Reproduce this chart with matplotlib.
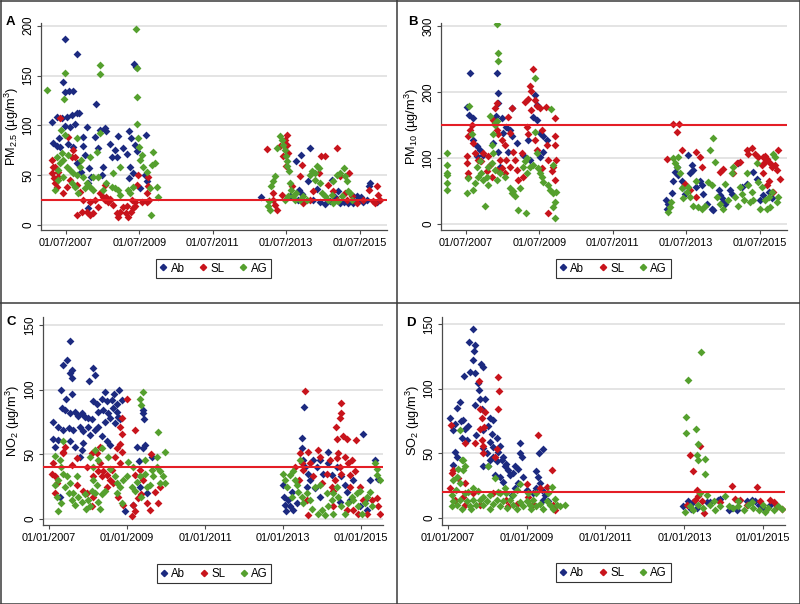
import matplotlib
matplotlib.use("Agg")
import matplotlib.pyplot as plt
from matplotlib.lines import Line2D

plt.rcParams['font.family'] = ['Liberation Sans', 'DejaVu Sans']
plt.rcParams['mathtext.default'] = 'regular'

# ---------------- data (decimal year, value) ----------------
series_names = ['Ab', 'SL', 'AG']

pm25_ab = [(2007.48,187),(2007.82,172),(2007.43,144),(2007.48,133),(2007.60,134),(2007.71,134),(2008.32,121),(2009.37,162),(2009.41,159),
(2007.12,103),(2007.25,108),(2007.39,107),(2007.53,108),(2007.66,110),(2007.80,112),(2007.87,112),(2007.48,99),(2007.63,98),(2007.75,101),
(2008.07,98),(2008.43,95),(2008.57,97),(2008.61,94),(2007.16,82),(2007.25,79),(2007.34,78),(2007.57,81),(2007.71,78),(2007.98,79),(2008.02,70),
(2008.30,88),(2008.39,77),(2008.70,81),(2008.93,89),(2008.84,75),(2008.89,68),(2008.75,68),(2009.16,71),(2009.05,77),(2009.23,94),(2009.29,87),
(2009.38,80),(2009.45,74),(2009.68,90),(2009.25,58),(2009.32,52),(2009.23,47),(2009.66,50),(2009.72,44),(2008.14,57),(2008.18,48),(2008.12,42),
(2008.52,58),(2008.48,50),(2007.82,62),(2007.91,53),(2008.12,17),(2009.52,37),(2007.33,87),(2007.98,88),
(2012.82,28),(2013.60,29),(2013.77,64),(2013.90,70),(2014.15,77),(2013.86,35),(2013.92,31),(2013.83,25),(2014.10,44),(2014.33,36),(2014.24,25),
(2014.42,23),(2014.56,21),(2014.69,24),(2014.83,28),(2014.92,34),(2014.74,45),(2014.97,22),(2015.06,23),(2015.19,22),(2015.33,22),(2015.31,29),
(2015.42,29),(2015.46,24),(2015.53,28),(2015.60,23),(2015.69,25),(2015.74,39),(2015.78,42),(2015.96,23)]

pm25_sl = [(2007.12,65),(2007.16,58),(2007.14,52),(2007.18,47),(2007.21,42),(2007.25,38),(2007.30,53),(2007.34,107),(2007.57,88),(2007.66,68),
(2007.71,75),(2007.75,68),(2007.43,32),(2007.53,38),(2007.62,45),(2007.80,40),(2007.89,33),(2007.98,25),(2008.07,13),(2008.16,10),(2008.25,12),
(2008.39,18),(2008.43,32),(2008.52,28),(2008.57,25),(2008.61,28),(2008.66,23),(2008.70,25),(2008.80,20),(2008.89,12),(2008.93,8),(2008.98,13),
(2009.07,18),(2009.14,12),(2009.20,8),(2009.27,13),(2009.34,17),(2009.38,23),(2009.43,40),(2009.48,50),(2009.75,48),(2009.70,32),(2009.77,25),
(2009.57,23),(2008.57,40),(2008.16,23),(2007.94,13),(2007.80,10),(2008.30,25),(2008.71,26),(2009.16,19),(2009.39,19),(2009.30,25),(2009.70,23),
(2009.75,39),(2007.20,58),(2007.28,48),
(2012.99,76),(2013.15,25),(2013.20,20),(2013.24,15),(2013.13,32),(2013.38,30),(2013.40,69),(2013.33,79),(2013.47,85),(2013.53,90),(2013.51,80),
(2013.56,72),(2013.50,59),(2013.65,39),(2013.92,60),(2013.88,49),(2013.95,22),(2014.15,25),(2014.38,52),(2014.44,69),(2014.56,69),(2014.65,40),
(2014.78,34),(2014.89,77),(2014.96,49),(2014.87,25),(2015.10,32),(2015.22,52),(2015.28,29),(2015.42,22),(2015.60,25),(2015.74,35),(2015.87,24),
(2015.96,39),(2016.01,30),(2016.05,25),(2015.92,22),(2014.24,34),(2015.15,25)]

pm25_ag = [(2007.00,135),(2007.48,153),(2007.45,126),(2008.43,161),(2008.43,152),(2009.40,197),(2009.45,158),(2009.43,128),(2009.43,101),
(2009.48,87),(2007.36,95),(2007.48,90),(2007.80,87),(2008.43,92),(2008.16,68),(2008.34,73),(2007.25,68),(2007.34,62),(2007.43,65),(2007.53,58),
(2007.62,55),(2007.71,52),(2007.80,50),(2007.89,58),(2007.93,65),(2007.98,48),(2008.07,42),(2008.16,38),(2008.25,35),(2007.21,35),(2007.30,45),
(2007.43,48),(2007.66,42),(2007.75,38),(2007.84,32),(2008.02,37),(2008.75,38),(2008.84,37),(2008.93,35),(2008.98,30),(2008.80,52),(2008.98,58),
(2009.20,35),(2009.25,32),(2009.50,78),(2009.57,70),(2009.52,65),(2009.61,58),(2009.70,53),(2009.79,37),(2009.88,73),(2009.93,62),(2009.84,60),
(2009.99,38),(2010.02,28),(2009.82,10),(2008.25,48),(2008.39,48),(2008.61,42),(2008.52,35),(2009.34,38),(2007.40,72),(2007.55,70),(2007.28,55),
(2013.01,19),(2013.06,15),(2013.04,24),(2013.10,39),(2013.15,44),(2013.20,49),(2013.24,77),(2013.33,89),(2013.38,85),(2013.42,80),(2013.47,75),
(2013.50,69),(2013.51,64),(2013.53,59),(2013.59,54),(2013.60,42),(2013.62,35),(2013.69,29),(2013.74,25),(2013.78,32),(2013.88,25),(2013.97,29),
(2014.06,25),(2014.15,50),(2014.20,54),(2014.28,52),(2014.33,59),(2014.38,57),(2014.28,45),(2014.42,42),(2014.47,32),(2014.56,29),(2014.65,25),
(2014.74,30),(2014.78,44),(2014.87,50),(2014.96,52),(2015.06,57),(2015.10,49),(2015.15,44),(2015.19,34),(2015.24,32),(2015.01,29),(2014.92,24),
(2015.28,25),(2014.78,22),(2013.47,25),(2013.56,29)]

pm10_ab = [(2007.62,229),(2008.34,230),(2008.39,199),(2007.54,178),(2007.60,166),(2007.71,161),(2008.39,184),(2008.32,164),(2008.48,161),
(2008.61,148),(2008.70,143),(2008.75,133),(2008.52,138),(2008.89,123),(2007.71,128),(2007.80,118),(2007.89,113),(2007.80,103),(2007.98,105),
(2008.25,123),(2008.39,110),(2008.43,87),(2008.66,110),(2009.34,163),(2009.43,181),(2009.45,158),(2009.52,138),(2009.61,133),(2009.52,102),
(2009.61,110),(2009.20,128),(2009.07,105),(2009.25,97),(2008.77,176),(2009.39,196),(2009.70,127),
(2012.95,36),(2012.97,23),(2013.01,31),(2013.11,47),(2013.15,66),(2013.20,79),(2013.24,87),(2013.29,74),(2013.38,66),(2013.42,56),(2013.47,46),
(2013.56,105),(2013.60,77),(2013.65,89),(2013.69,82),(2013.78,56),(2013.88,66),(2013.92,59),(2013.97,46),(2014.19,23),(2014.24,22),(2014.06,31),
(2014.38,51),(2014.42,44),(2014.47,39),(2014.51,34),(2014.56,31),(2014.69,51),(2014.74,46),(2014.92,92),(2015.01,56),(2015.15,61),(2015.33,79),
(2015.42,69),(2015.51,36),(2015.60,44),(2015.74,49),(2015.83,39)]

pm10_sl = [(2009.32,236),(2009.25,209),(2009.29,202),(2009.20,190),(2009.38,188),(2009.43,179),(2009.29,173),(2009.11,186),(2009.68,178),
(2009.93,161),(2009.52,176),(2008.75,176),(2008.34,183),(2008.30,176),(2007.62,143),(2007.66,151),(2007.57,133),(2007.53,103),(2007.53,92),
(2007.57,77),(2007.57,72),(2007.71,123),(2007.84,97),(2007.98,108),(2008.12,103),(2008.16,90),(2008.25,158),(2008.34,143),(2008.39,136),
(2008.48,128),(2008.57,120),(2008.66,163),(2008.70,138),(2008.61,97),(2008.43,97),(2008.48,85),(2008.34,82),(2008.57,77),(2008.70,87),
(2008.80,110),(2008.84,97),(2008.89,82),(2008.93,67),(2009.02,108),(2009.07,72),(2009.16,148),(2009.20,136),(2009.38,128),(2009.43,113),
(2009.57,143),(2009.70,120),(2009.75,97),(2009.88,87),(2009.93,120),(2009.93,133),(2009.97,97),(2009.93,67),(2009.75,16),(2009.84,80),
(2009.57,85),(2008.21,72),(2008.07,80),(2007.93,95),(2007.75,108),
(2012.97,98),(2013.13,152),(2013.24,139),(2013.31,152),(2013.38,113),(2013.47,61),(2013.60,51),(2013.78,110),(2013.88,102),(2013.92,87),
(2013.78,41),(2014.42,79),(2014.51,84),(2014.78,77),(2014.87,92),(2014.96,94),(2015.15,112),(2015.19,107),(2015.28,115),(2015.37,107),
(2015.46,102),(2015.55,89),(2015.60,102),(2015.64,94),(2015.69,99),(2015.78,92),(2015.83,87),(2015.92,89),(2015.96,82),(2016.01,113),
(2016.04,69),(2015.60,77),(2015.69,59),(2015.74,66),(2015.64,104),(2015.87,49)]

pm10_ag = [(2007.00,108),(2007.00,90),(2007.00,77),(2007.00,74),(2007.00,62),(2007.00,51),(2008.36,303),(2008.39,259),(2008.39,247),
(2007.58,179),(2009.38,221),(2009.81,175),(2007.66,136),(2007.57,70),(2007.53,47),(2007.71,52),(2008.02,27),(2007.80,87),(2007.89,95),
(2007.93,77),(2007.98,67),(2008.07,72),(2008.12,59),(2008.21,120),(2008.25,136),(2008.30,153),(2008.16,164),(2008.25,108),(2008.21,92),
(2008.30,82),(2008.43,77),(2008.57,72),(2008.70,54),(2008.75,47),(2008.84,42),(2008.80,50),(2008.98,54),(2008.93,21),(2009.14,16),
(2009.07,87),(2009.11,95),(2009.18,100),(2009.16,77),(2009.25,87),(2009.34,90),(2009.38,140),(2009.43,108),(2009.48,85),(2009.52,77),
(2009.57,72),(2009.61,64),(2009.75,59),(2009.79,52),(2009.88,47),(2009.97,49),(2009.93,34),(2009.88,26),(2009.93,9),(2009.87,90),
(2007.84,72),(2007.75,62),(2008.34,67),(2008.12,87),(2008.30,150),(2008.36,156),
(2013.01,18),(2013.06,26),(2013.10,34),(2013.15,100),(2013.20,92),(2013.24,87),(2013.29,102),(2013.33,77),(2013.38,54),(2013.42,39),
(2013.51,49),(2013.56,56),(2013.60,41),(2013.69,28),(2013.78,66),(2013.83,26),(2013.92,23),(2014.01,28),(2014.10,64),(2014.15,112),
(2014.22,131),(2014.19,59),(2014.28,94),(2014.33,41),(2014.42,31),(2014.51,23),(2014.56,61),(2014.65,36),(2014.74,77),(2014.78,87),
(2014.83,41),(2014.92,28),(2014.96,56),(2015.01,46),(2015.06,36),(2015.15,77),(2015.19,59),(2015.24,34),(2015.33,36),(2015.42,92),
(2015.46,64),(2015.51,23),(2015.55,56),(2015.64,36),(2015.69,23),(2015.78,26),(2015.83,49),(2015.87,107),(2015.92,102),(2016.01,41),
(2015.96,34),(2015.74,41),(2015.28,49)]

no2_ab = [(2007.54,138),(2007.35,119),(2007.47,123),(2007.58,115),(2007.54,113),(2007.58,109),(2008.14,117),(2008.18,111),(2008.03,107),
(2007.30,100),(2007.58,97),(2007.44,93),(2008.44,98),(2008.80,100),(2008.67,97),(2008.35,93),(2008.22,89),(2008.14,91),(2008.48,91),
(2008.61,92),(2008.74,89),(2008.86,92),(2007.33,86),(2007.41,84),(2007.54,82),(2007.67,83),(2007.75,80),(2007.84,82),(2007.92,79),
(2008.01,78),(2008.09,77),(2008.26,83),(2008.39,84),(2008.52,82),(2008.63,86),(2008.74,83),(2008.78,79),(2008.82,77),(2007.11,75),
(2007.24,71),(2007.37,69),(2007.50,70),(2007.62,69),(2007.79,71),(2007.88,68),(2008.01,71),(2008.05,65),(2008.18,69),(2008.26,71),
(2008.44,75),(2008.56,78),(2008.69,74),(2007.11,62),(2007.24,61),(2007.54,60),(2007.88,59),(2008.35,64),(2007.15,56),(2007.67,56),
(2007.84,53),(2008.48,60),(2008.56,57),(2009.25,56),(2009.46,57),(2009.42,55),(2007.79,48),(2009.63,48),(2008.95,6),(2007.28,17),
(2009.16,11),(2009.33,25),(2009.50,20),(2009.42,82),(2009.40,84),(2009.44,77),(2009.30,45),
(2013.01,26),(2013.03,17),(2013.05,11),(2013.08,6),(2013.14,15),(2013.18,10),(2013.26,7),(2013.35,12),(2013.22,21),(2013.48,63),
(2013.54,87),(2013.48,55),(2013.52,46),(2013.56,40),(2013.65,35),(2013.69,30),(2013.61,25),(2013.78,46),(2013.86,40),(2013.82,24),
(2013.95,46),(2014.03,35),(2014.16,52),(2014.16,43),(2014.25,34),(2014.38,40),(2014.50,33),(2014.59,26),(2014.63,21),(2014.72,15),
(2014.80,30),(2014.97,10),(2015.04,66),(2015.10,15),(2015.15,7),(2015.23,30),(2015.36,46),(2015.44,31),(2014.46,13),(2013.95,17)]

no2_sl = [(2008.99,93),(2008.86,78),(2008.82,71),(2008.86,66),(2008.82,58),(2008.86,52),(2009.20,69),(2007.11,43),(2007.07,35),(2007.15,33),
(2007.20,28),(2007.15,20),(2007.41,56),(2007.37,51),(2007.71,26),(2007.88,22),(2007.97,20),(2008.09,10),(2008.14,17),(2008.22,51),
(2008.31,43),(2008.26,37),(2008.39,37),(2008.35,33),(2008.48,34),(2008.56,30),(2008.61,38),(2008.65,28),(2008.48,25),(2008.69,48),
(2008.82,43),(2008.78,17),(2008.90,11),(2009.16,11),(2009.20,6),(2009.12,2),(2009.29,16),(2009.37,19),(2009.50,12),(2009.59,7),
(2009.72,21),(2009.80,12),(2007.71,47),(2007.97,40),(2009.20,34),(2009.33,38),(2009.42,30),(2008.14,33),(2008.74,55),(2008.31,56),
(2008.10,51),(2007.37,52),(2007.60,42),(2009.62,50),(2009.85,25),
(2013.56,99),(2013.44,51),(2013.48,43),(2013.52,38),(2013.65,52),(2013.69,43),(2013.78,33),(2013.61,15),(2013.65,3),(2013.91,53),
(2013.95,48),(2014.00,28),(2014.12,35),(2014.21,46),(2014.25,25),(2014.29,10),(2014.33,30),(2014.38,47),(2014.42,51),(2014.46,40),
(2014.50,35),(2014.36,71),(2014.38,62),(2014.46,78),(2014.50,82),(2014.50,90),(2014.53,64),(2014.63,62),(2014.59,48),(2014.67,43),
(2014.72,34),(2014.76,46),(2014.85,37),(2014.87,61),(2014.97,25),(2015.06,15),(2015.15,4),(2015.27,15),(2015.40,16),(2015.44,10),
(2015.49,4),(2014.93,4),(2014.80,7),(2014.63,7),(2014.29,22),(2014.72,25),(2013.40,30),(2013.30,40)]

no2_ag = [(2007.35,60),(2009.40,98),(2009.33,93),(2009.37,88),(2009.80,67),(2009.97,52),(2008.18,53),(2008.35,55),(2008.26,46),(2008.14,40),
(2008.05,48),(2007.15,49),(2007.28,46),(2007.32,40),(2007.37,35),(2007.24,30),(2007.15,26),(2007.20,17),(2007.24,6),(2007.41,25),
(2007.50,20),(2007.58,15),(2007.67,11),(2007.62,20),(2007.75,17),(2007.84,13),(2007.92,19),(2008.01,15),(2008.05,10),(2008.09,22),
(2008.18,20),(2008.26,13),(2008.35,19),(2008.44,22),(2008.14,30),(2008.22,26),(2007.45,33),(2007.54,28),(2007.71,33),(2008.69,33),
(2008.74,28),(2008.82,25),(2008.90,30),(2008.86,12),(2008.74,20),(2008.99,33),(2009.03,44),(2009.16,40),(2009.12,25),(2009.20,22),
(2009.25,29),(2009.33,33),(2009.46,35),(2009.50,25),(2009.37,17),(2009.63,38),(2009.67,33),(2009.76,40),(2009.85,37),(2009.93,33),
(2009.97,28),(2009.85,28),(2009.59,26),(2009.46,46),(2009.76,48),(2008.52,48),(2008.56,39),(2007.30,12),(2007.95,8),(2008.30,8),
(2013.01,35),(2013.05,30),(2013.09,25),(2013.18,34),(2013.26,37),(2013.30,30),(2013.35,26),(2013.22,17),(2013.44,46),(2013.39,21),
(2013.48,17),(2013.52,12),(2013.61,20),(2013.69,15),(2013.74,8),(2013.82,25),(2013.91,4),(2014.00,7),(2014.07,3),(2014.16,10),
(2014.25,15),(2014.29,20),(2014.38,25),(2014.42,17),(2014.50,10),(2014.59,4),(2014.67,12),(2014.76,17),(2014.80,15),(2014.89,20),
(2014.93,10),(2015.02,4),(2015.10,12),(2015.15,17),(2015.23,21),(2015.27,10),(2015.36,43),(2015.40,39),(2015.40,34),(2015.49,30),
(2014.97,22),(2013.95,26),(2014.12,20),(2014.29,4)]

so2_ab = [(2007.65,146),(2007.55,136),(2007.69,134),(2007.67,129),(2007.65,122),(2007.84,119),(2007.89,117),(2007.41,110),(2007.57,113),
(2007.69,112),(2007.78,104),(2007.80,99),(2007.31,90),(2007.23,85),(2007.69,87),(2007.82,92),(2007.95,92),(2007.86,84),(2007.06,77),
(2007.19,73),(2007.33,75),(2007.40,76),(2007.44,69),(2007.52,71),(2007.14,68),(2008.07,77),(2008.16,76),(2008.03,71),(2008.12,65),
(2007.35,62),(2007.48,60),(2007.73,64),(2007.90,68),(2008.07,59),(2008.16,55),(2008.24,62),(2008.33,56),(2008.28,51),(2007.19,51),
(2007.23,47),(2007.90,54),(2007.99,50),(2008.16,47),(2008.07,45),(2007.13,41),(2007.90,40),(2008.24,44),(2008.37,45),(2008.41,47),
(2008.45,40),(2008.49,42),(2008.54,37),(2008.58,33),(2008.66,35),(2008.71,40),(2008.79,38),(2008.83,50),(2008.88,47),(2008.83,58),
(2008.71,23),(2008.79,27),(2008.62,18),(2008.92,32),(2009.00,22),(2009.25,36),(2009.30,32),(2009.34,27),(2009.38,22),(2009.42,14),
(2009.47,18),(2009.25,23),(2009.17,19),(2009.42,53),(2009.32,50),(2009.55,13),(2008.20,33),(2008.33,32),(2008.41,28),(2008.03,40),
(2012.97,9),(2013.10,13),(2013.16,7),(2013.23,12),(2013.31,8),(2013.57,12),(2013.65,12),(2013.86,14),(2013.90,15),(2014.12,6),
(2014.20,8),(2014.33,6),(2014.58,13),(2014.71,14),(2014.79,13),(2014.88,10),(2015.00,8),(2015.17,10)]

so2_sl = [(2008.28,109),(2008.31,98),(2008.28,84),(2007.80,106),(2007.82,84),(2007.86,77),(2007.82,69),(2007.69,58),(2007.86,60),
(2007.90,56),(2007.08,72),(2007.44,58),(2007.90,50),(2008.24,53),(2009.30,64),(2009.64,37),(2007.14,37),(2007.27,31),(2007.06,23),
(2007.44,27),(2007.40,16),(2007.19,14),(2007.44,10),(2007.65,19),(2007.82,10),(2008.16,19),(2008.49,14),(2008.54,9),(2008.75,11),
(2009.00,26),(2009.04,16),(2009.17,11),(2009.34,23),(2009.51,24),(2009.68,10),(2009.72,6),(2007.95,82),(2007.92,70),(2008.20,47),
(2007.10,35),
(2013.14,49),(2013.23,36),(2013.31,22),(2013.35,17),(2013.27,14),(2013.40,56),(2013.44,13),(2013.50,4),(2013.06,10),(2014.20,25),
(2014.28,15),(2014.41,14),(2014.58,10),(2014.83,24),(2014.92,13),(2015.17,14),(2015.26,12),(2015.47,7),(2015.34,9),(2013.90,12)]

so2_ag = [(2007.31,68),(2007.35,45),(2007.40,45),(2007.44,40),(2007.40,37),(2007.27,38),(2008.03,40),(2008.20,31),(2007.23,32),
(2007.14,29),(2007.31,27),(2007.10,18),(2007.14,13),(2007.10,9),(2007.23,10),(2007.31,14),(2007.44,19),(2007.48,13),(2007.57,9),
(2007.65,14),(2007.73,10),(2007.82,14),(2007.90,10),(2007.99,13),(2008.07,7),(2008.16,11),(2008.24,14),(2008.33,9),(2008.41,13),
(2008.58,14),(2008.66,10),(2008.75,7),(2008.83,12),(2008.92,9),(2009.00,13),(2009.09,10),(2009.17,14),(2009.25,9),(2009.34,11),
(2009.42,7),(2009.51,13),(2009.59,10),(2009.68,7),(2009.76,10),(2009.85,9),(2009.97,10),(2009.64,24),(2009.55,19),(2009.72,15),
(2008.83,26),(2008.75,22),(2008.45,23),(2008.33,19),(2007.90,16),(2007.65,23),(2008.07,18),(2008.49,19),(2009.04,19),(2009.25,19),
(2007.36,7),(2008.66,18),(2007.60,7),(2008.50,8),(2009.10,7),(2007.20,22),(2007.52,20),(2007.78,21),(2008.28,20),
(2013.08,107),(2013.04,78),(2013.04,66),(2013.30,69),(2013.34,57),(2013.31,49),(2013.34,45),(2013.41,128),(2013.52,46),(2013.52,34),
(2013.40,19),(2013.57,18),(2013.02,5),(2013.14,9),(2013.23,6),(2013.35,10),(2013.48,8),(2013.65,10),(2013.78,6),(2013.90,9),
(2014.03,17),(2014.12,9),(2014.24,8),(2014.37,9),(2014.50,6),(2014.62,10),(2014.75,8),(2014.88,6),(2015.00,10),(2015.13,8),
(2015.26,6),(2015.38,9),(2015.47,7),(2014.37,13),(2014.71,12),(2015.04,5),(2013.74,13)]

panel_letters = ['A', 'B', 'C', 'D']
ylabels = [r'PM$_{2.5}$ (µg/m$^3$)', r'PM$_{10}$ (µg/m$^3$)', r'NO$_2$ (µg/m$^3$)', r'SO$_2$ (µg/m$^3$)']
ref_values = [25, 150, 40, 20]
yticks_ab = [0, 50, 100, 150, 200]
yticks_b = [0, 100, 200, 300]
yticks_cd = [0, 50, 100, 150]
xticks_top = [2007.5, 2009.5, 2011.5, 2013.5, 2015.5]
xlabels_top = ['01/07/2007', '01/07/2009', '01/07/2011', '01/07/2013', '01/07/2015']
xticks_bot = [2007.0, 2009.0, 2011.0, 2013.0, 2015.0]
xlabels_bot = ['01/01/2007', '01/01/2009', '01/01/2011', '01/01/2013', '01/01/2015']

# ---------------- drawing ----------------
W, H = 800, 604
fig = plt.figure(figsize=(8, 6.04), dpi=100)
fig.patch.set_facecolor('white')

COLORS = {'Ab': '#1c2a80', 'SL': '#c8141c', 'AG': '#55a02e'}
REF = '#e41e26'
GRID = '#e2e2e2'
AXC = '#4a4a4a'


def rect(l, r, top, bottom):
    return [l / W, 1 - bottom / H, (r - l) / W, (bottom - top) / H]


def panel(r, series, xlim, ylim, yticks, xticks, xlabels, ref, ylabel, ylab_x,
          letter, letter_xy, leg_xy):
    ax = fig.add_axes(r)
    ax.set_xlim(*xlim)
    ax.set_ylim(*ylim)
    for y in yticks:
        ax.axhline(y, color=GRID, lw=1.3, zorder=0)
    for name, pts in zip(series_names, series):
        xs = [p[0] for p in pts]
        ys = [p[1] for p in pts]
        ax.scatter(xs, ys, marker='D', s=16, color=COLORS[name], linewidths=0, zorder=2)
    ax.axhline(ref, color=REF, lw=1.5, zorder=3)
    for s in ['top', 'right']:
        ax.spines[s].set_visible(False)
    for s in ['left', 'bottom']:
        ax.spines[s].set_color(AXC)
        ax.spines[s].set_linewidth(0.9)
    ax.set_yticks(yticks)
    ax.set_yticklabels([str(v) for v in yticks], rotation=90, va='center')
    ax.set_xticks(xticks)
    ax.set_xticklabels(xlabels)
    ax.tick_params(direction='out', length=3, width=0.8, colors=AXC,
                   labelcolor='black', labelsize=7.8)
    ax.tick_params(axis='y', pad=1.5, labelsize=8.4)
    ax.tick_params(axis='x', pad=2.5)
    ax.set_ylabel(ylabel, fontsize=9.2)
    ax.yaxis.set_label_coords(ylab_x, 0.5)
    fig.text(letter_xy[0] / W, 1 - letter_xy[1] / H, letter, fontsize=9.5,
             fontweight='bold', ha='center', va='center')
    handles = [Line2D([], [], marker='D', ms=3.2, lw=0, color=COLORS[n]) for n in series_names]
    leg = fig.legend(handles, series_names, loc='center',
                     bbox_to_anchor=(leg_xy[0] / W, 1 - leg_xy[1] / H), ncol=3,
                     fontsize=8.3, handlelength=0.6, handletextpad=0.35,
                     columnspacing=1.3, borderpad=0.3, fancybox=False,
                     edgecolor='#333333', framealpha=1)
    leg.get_frame().set_linewidth(0.8)
    return ax


panel(rect(40.7, 386.7, 22.7, 230), [pm25_ab, pm25_sl, pm25_ag], (2006.82, 2016.235), (-5, 203),
      yticks_ab, xticks_top, xlabels_top, ref_values[0], ylabels[0], -0.056,
      panel_letters[0], (10, 22), (213.6, 268.5))
panel(rect(440.7, 786.7, 22.7, 230), [pm10_ab, pm10_sl, pm10_ag], (2006.82, 2016.235), (-9.1, 305.7),
      yticks_b, xticks_top, xlabels_top, ref_values[1], ylabels[1], -0.056,
      panel_letters[1], (413, 22), (613.3, 268.5))
panel(rect(42.7, 383.3, 316.5, 525), [no2_ab, no2_sl, no2_ag], (2006.838, 2015.572), (-4.64, 156.6),
      yticks_cd, xticks_bot, xlabels_bot, ref_values[2], ylabels[2], -0.062,
      panel_letters[2], (11, 322), (214, 573.7))
panel(rect(441.7, 785, 316.5, 525), [so2_ab, so2_sl, so2_ag], (2006.848, 2015.55), (-5.41, 155.8),
      yticks_cd, xticks_bot, xlabels_bot, ref_values[3], ylabels[3], -0.058,
      panel_letters[3], (411, 323), (613.3, 572.7))

# panel frames
BC = '#3a3a3a'
for (x0, y0, x1, y1) in [(0.5, 0.5, 799.5, 0.5), (0.5, 603.5, 799.5, 603.5), (0.5, 0.5, 0.5, 603.5),
                         (799.5, 0.5, 799.5, 603.5), (397, 0, 397, 604), (0, 303, 800, 303)]:
    fig.add_artist(Line2D([x0 / W, x1 / W], [1 - y0 / H, 1 - y1 / H], transform=fig.transFigure,
                          color=BC, lw=1.1))

fig.savefig('out.png', dpi=100, facecolor='white')
